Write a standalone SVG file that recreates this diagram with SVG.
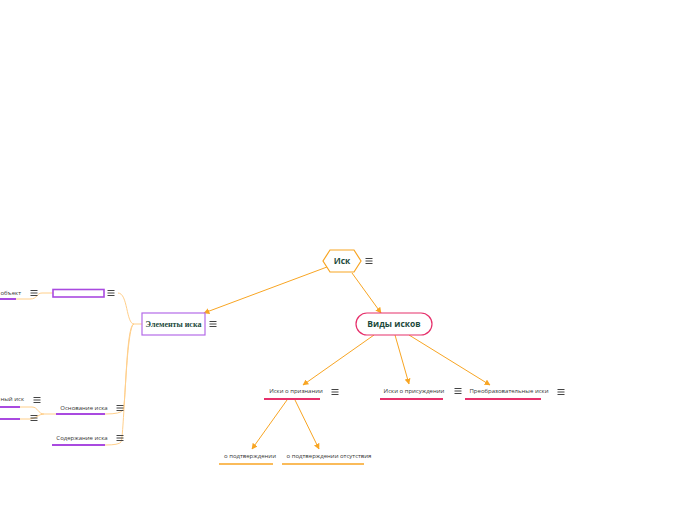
<svg xmlns="http://www.w3.org/2000/svg" xmlns:xlink="http://www.w3.org/1999/xlink" width="696" height="520" viewBox="0 0 696 520">
<style>
.t{font-family:"Open Sans","Noto Sans",sans-serif;font-size:6px;fill:#333}
.tb{font-family:"Open Sans","Noto Sans",sans-serif;font-size:8.5px;font-weight:bold;fill:#1d4a3c}
.ts{font-family:"Liberation Serif",serif;font-size:8px;font-weight:bold;fill:#1d4a3c}
.c{fill:none;stroke:#f8a523;stroke-width:1}
.cl{fill:none;stroke:#ffcf8a;stroke-width:1}
.up{stroke:#e6306b;stroke-width:2}
.uo{stroke:#f8a523;stroke-width:1.5}
.uv{stroke:#a94ae0;stroke-width:2}
.m{stroke:#444;stroke-width:1}
</style>
<defs>
<marker id="ar" viewBox="0 0 10 10" refX="9" refY="5" markerWidth="6" markerHeight="6" orient="auto" markerUnits="userSpaceOnUse">
<path d="M0,0 L10,5 L0,10 z" fill="#f8a523"/>
</marker>
<g id="menu"><path class="m" d="M-3.5,-2.5H3.5M-3.5,0H3.5M-3.5,2.5H3.5"/></g>
</defs>
<rect width="696" height="520" fill="#fff"/>
<g id="connectors">
<path class="c" d="M327,267 L204,313" marker-end="url(#ar)"/>
<path class="c" d="M352,273 L381,313" marker-end="url(#ar)"/>
<path class="c" d="M374,335 L303,385" marker-end="url(#ar)"/>
<path class="c" d="M395,335 L409,384" marker-end="url(#ar)"/>
<path class="c" d="M409,335 L490,385" marker-end="url(#ar)"/>
<path class="c" d="M287,400 L252,449" marker-end="url(#ar)"/>
<path class="c" d="M295,400 L319,449" marker-end="url(#ar)"/>
<path class="cl" d="M142,324 H134 C126,324 128,293 118,293"/>
<path class="cl" d="M134,324 C126,324 126,405 123,410 Q121,414 105,414"/>
<path class="cl" d="M134,324 C126,324 124,438 121,442 Q119,445 105,445"/>
<path class="cl" d="M53,293 H42 C36,293 38,299 30,299 H16"/>
<path class="cl" d="M56,414 H44 C38,414 38,407 32,407 H20"/>
<path class="cl" d="M44,414 C38,414 36,419 30,419 H20"/>
</g>
<g id="root">
<path d="M330,250 H354 L361,261 L354,272 H330 L323,261 Z" fill="#fff" stroke="#f8a523" stroke-width="1.2"/>
<text class="tb" x="342" y="264" text-anchor="middle">Иск</text>
<use xlink:href="#menu" x="369" y="261"/>
</g>
<g id="vidy">
<rect x="356" y="313" width="76" height="22" rx="11" fill="#fff" stroke="#e6306b" stroke-width="1.2"/>
<text class="tb" x="394" y="327" text-anchor="middle">Виды исков</text>
</g>
<g id="elementy">
<rect x="142" y="313" width="63" height="22" fill="#fff" stroke="#b46be8" stroke-width="1.2"/>
<text class="ts" x="173.5" y="327" text-anchor="middle">Элементы иска</text>
<use xlink:href="#menu" x="213" y="324"/>
</g>
<g id="priznanie">
<text class="t" x="296" y="393" text-anchor="middle">Иски о признании</text>
<line class="up" x1="264" y1="399" x2="320" y2="399"/>
<use xlink:href="#menu" x="335" y="392"/>
</g>
<g id="prisuzhdenie">
<text class="t" x="414" y="393" text-anchor="middle">Иски о присуждении</text>
<line class="up" x1="380" y1="399" x2="443" y2="399"/>
<use xlink:href="#menu" x="458" y="391"/>
</g>
<g id="preobraz">
<text class="t" x="509" y="393" text-anchor="middle">Преобразовательные иски</text>
<line class="up" x1="465" y1="399" x2="541" y2="399"/>
<use xlink:href="#menu" x="561" y="392"/>
</g>
<g id="podtv">
<text class="t" x="250" y="458" text-anchor="middle">о подтверждении</text>
<line class="uo" x1="219" y1="464" x2="273" y2="464"/>
</g>
<g id="podtv-ots">
<text class="t" x="329" y="458" text-anchor="middle">о подтверждении отсутствия</text>
<line class="uo" x1="282" y1="464" x2="364" y2="464"/>
</g>
<g id="empty-node">
<rect x="53" y="289.5" width="51" height="7.5" fill="#fff" stroke="#a94ae0" stroke-width="1.6"/>
<use xlink:href="#menu" x="111" y="293"/>
</g>
<g id="obekt">
<text class="t" x="21" y="295" text-anchor="end">объект</text>
<line class="uv" x1="0" y1="299" x2="16" y2="299"/>
<use xlink:href="#menu" x="34" y="293"/>
</g>
<g id="osnovanie">
<text class="t" x="84" y="410" text-anchor="middle">Основание иска</text>
<line class="uv" x1="56" y1="414" x2="105" y2="414"/>
<use xlink:href="#menu" x="120" y="408"/>
</g>
<g id="soderzhanie">
<text class="t" x="82" y="440" text-anchor="middle">Содержание иска</text>
<line class="uv" x1="52" y1="445" x2="105" y2="445"/>
<use xlink:href="#menu" x="120" y="438"/>
</g>
<g id="iskA">
<text class="t" x="24" y="401" text-anchor="end">ный иск</text>
<line class="uv" x1="0" y1="407" x2="20" y2="407"/>
<use xlink:href="#menu" x="37" y="400"/>
</g>
<g id="iskB">
<line class="uv" x1="0" y1="419" x2="20" y2="419"/>
<use xlink:href="#menu" x="34" y="418"/>
</g>
</svg>
